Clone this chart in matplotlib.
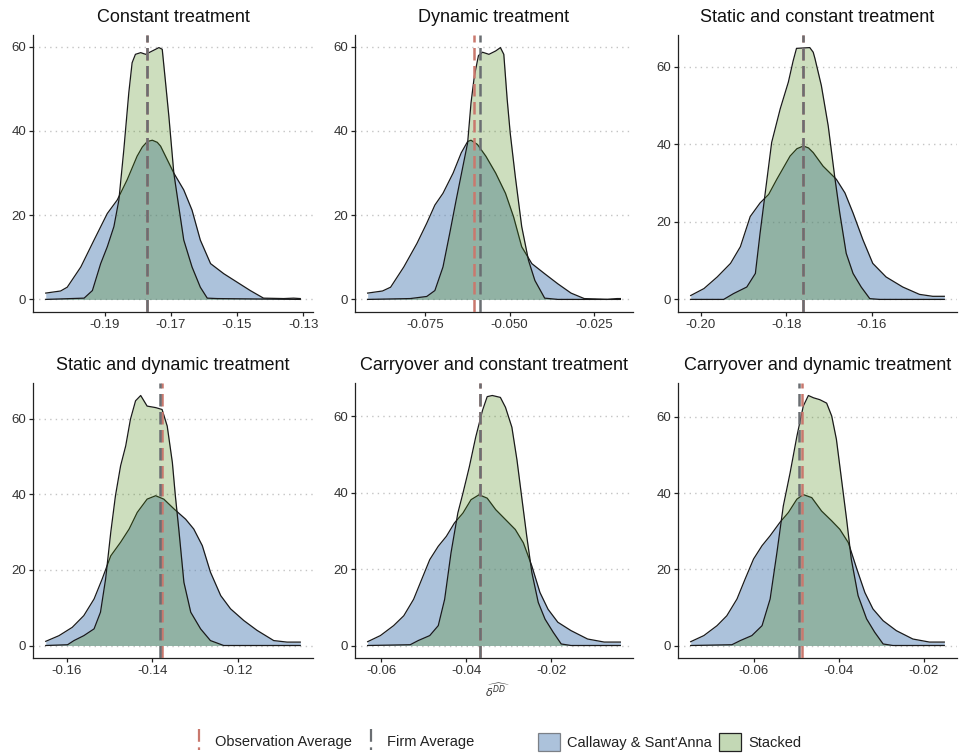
import numpy as np
import matplotlib.pyplot as plt
from matplotlib.lines import Line2D
from matplotlib.patches import Patch
from matplotlib.legend_handler import HandlerBase

plt.rcParams["font.family"] = ["Liberation Sans", "DejaVu Sans"]

titles = [
    "Constant treatment",
    "Dynamic treatment",
    "Static and constant treatment",
    "Static and dynamic treatment",
    "Carryover and constant treatment",
    "Carryover and dynamic treatment",
]

# Callaway & Sant'Anna (cs) and Stacked (st) density curves
const_cs_x = [-0.2078, -0.2033, -0.2013, -0.1972, -0.1932, -0.1892, -0.1862, -0.1832, -0.1802, -0.1786, -0.1771,
              -0.1756, -0.1741, -0.1731, -0.1691, -0.1661, -0.1636, -0.1611, -0.1580, -0.1540, -0.1500, -0.1460,
              -0.1420, -0.1359, -0.1329, -0.1309]
const_cs_y = [1.5, 2.0, 2.9, 7.7, 14.1, 20.4, 23.6, 28.4, 34.0, 36.2, 37.5,
              37.8, 37.3, 36.4, 30.0, 26.0, 21.2, 14.1, 8.5, 6.1, 4.1, 2.1,
              0.3, 0.2, 0.3, 0.2]
const_st_x = [-0.2078, -0.1962, -0.1937, -0.1912, -0.1892, -0.1872, -0.1857, -0.1842, -0.1827, -0.1817,
              -0.1807, -0.1791, -0.1776, -0.1756, -0.1736, -0.1726, -0.1716, -0.1706, -0.1691, -0.1676,
              -0.1661, -0.1636, -0.1611, -0.1590, -0.1560, -0.1309]
const_st_y = [0.0, 0.3, 2.1, 8.5, 12.5, 17.3, 23.6, 35.6, 49.1, 56.2,
              58.2, 58.6, 58.2, 59.0, 59.8, 59.4, 51.5, 43.5, 30.0, 22.0,
              14.1, 7.7, 2.9, 0.3, 0.2, 0.0]

dyn_cs_x = [-0.0920, -0.0876, -0.0852, -0.0813, -0.0774, -0.0745, -0.0721, -0.0697, -0.0667, -0.0643,
            -0.0624, -0.0614, -0.0595, -0.0570, -0.0541, -0.0512, -0.0488, -0.0464, -0.0434, -0.0396,
            -0.0357, -0.0318, -0.0279, -0.0211, -0.0182, -0.0172]
dyn_cs_y = [1.5, 2.0, 2.9, 7.7, 13.3, 18.1, 22.4, 25.2, 30.0, 34.8,
            37.5, 37.8, 36.8, 34.0, 30.0, 25.2, 19.6, 12.5, 8.5, 6.1,
            3.7, 1.5, 0.2, 0.0, 0.2, 0.2]
dyn_st_x = [-0.0920, -0.0794, -0.0745, -0.0721, -0.0697, -0.0677, -0.0658, -0.0638, -0.0624, -0.0614,
            -0.0604, -0.0592, -0.0580, -0.0561, -0.0541, -0.0527, -0.0517, -0.0507, -0.0498, -0.0483,
            -0.0464, -0.0444, -0.0425, -0.0396, -0.0357, -0.0172]
dyn_st_y = [0.0, 0.2, 0.7, 2.1, 7.7, 15.7, 23.6, 31.6, 37.2, 46.7,
            53.1, 57.9, 58.7, 58.2, 59.0, 59.8, 58.2, 47.5, 39.5, 29.2,
            17.3, 9.3, 4.5, 0.3, 0.0, 0.0]

sc_cs_x = [-0.2023, -0.1992, -0.1961, -0.1930, -0.1907, -0.1884, -0.1861, -0.1841, -0.1822, -0.1791,
           -0.1775, -0.1760, -0.1748, -0.1737, -0.1714, -0.1683, -0.1663, -0.1644, -0.1621, -0.1598,
           -0.1567, -0.1528, -0.1489, -0.1458, -0.1431]
sc_cs_y = [1.0, 2.8, 5.8, 9.3, 13.6, 21.4, 24.9, 27.1, 31.0, 37.0,
           38.9, 39.6, 39.1, 37.9, 34.4, 31.0, 27.5, 22.3, 15.4, 9.3,
           5.8, 3.2, 1.3, 0.8, 0.8]
sc_st_x = [-0.2023, -0.1946, -0.1923, -0.1892, -0.1872, -0.1861, -0.1849, -0.1834, -0.1814, -0.1795,
           -0.1784, -0.1776, -0.1745, -0.1737, -0.1733, -0.1718, -0.1702, -0.1687, -0.1675, -0.1660,
           -0.1644, -0.1625, -0.1605, -0.1582, -0.1431]
sc_st_y = [0.0, 0.0, 1.5, 3.2, 6.7, 17.1, 27.5, 40.5, 49.2, 56.1,
           61.5, 64.8, 65.0, 63.8, 62.2, 55.2, 44.8, 31.8, 22.3, 11.9,
           6.7, 3.2, 0.2, 0.0, 0.0]

sd_cs_x = [-0.1649, -0.1618, -0.1587, -0.1560, -0.1536, -0.1517, -0.1497, -0.1474, -0.1454, -0.1435,
           -0.1412, -0.1392, -0.1373, -0.1349, -0.1322, -0.1303, -0.1283, -0.1264, -0.1240, -0.1217,
           -0.1186, -0.1155, -0.1116, -0.1085, -0.1054]
sd_cs_y = [1.1, 2.6, 4.8, 7.9, 12.3, 17.6, 23.7, 27.3, 30.8, 35.2,
           38.7, 39.6, 38.7, 36.1, 33.4, 30.8, 26.4, 19.4, 13.2, 9.7,
           6.6, 4.0, 1.3, 0.9, 0.9]
sd_st_x = [-0.1649, -0.1598, -0.1583, -0.1560, -0.1536, -0.1521, -0.1509, -0.1497, -0.1486, -0.1474,
           -0.1462, -0.1451, -0.1439, -0.1427, -0.1412, -0.1392, -0.1377, -0.1365, -0.1353, -0.1346,
           -0.1338, -0.1326, -0.1310, -0.1287, -0.1264, -0.1233, -0.1054]
sd_st_y = [0.0, 0.2, 1.3, 2.6, 4.4, 8.8, 17.6, 29.9, 39.6, 47.5,
           52.8, 59.8, 64.7, 66.1, 63.3, 62.9, 62.4, 58.0, 48.4, 39.6,
           30.8, 16.7, 8.8, 4.4, 1.3, 0.0, 0.0]

cc_cs_x = [-0.0632, -0.0602, -0.0571, -0.0547, -0.0524, -0.0505, -0.0486, -0.0466, -0.0447, -0.0428,
           -0.0408, -0.0389, -0.0370, -0.0351, -0.0331, -0.0308, -0.0285, -0.0266, -0.0246, -0.0227,
           -0.0208, -0.0185, -0.0154, -0.0115, -0.0076, -0.0038]
cc_cs_y = [1.0, 2.6, 5.2, 7.8, 12.1, 17.3, 22.5, 26.0, 28.6, 32.1,
           34.7, 38.2, 39.5, 38.6, 35.6, 33.0, 30.4, 26.9, 20.8, 13.9,
           9.5, 6.1, 3.9, 1.7, 0.9, 0.9]
cc_st_x = [-0.0632, -0.0532, -0.0513, -0.0486, -0.0466, -0.0451, -0.0436, -0.0420, -0.0408, -0.0393,
           -0.0378, -0.0362, -0.0351, -0.0339, -0.0320, -0.0308, -0.0293, -0.0281, -0.0270, -0.0258,
           -0.0246, -0.0231, -0.0215, -0.0196, -0.0177, -0.0154, -0.0038]
cc_st_y = [0.0, 0.2, 1.3, 2.6, 5.2, 12.1, 24.3, 34.7, 39.9, 46.8,
           54.6, 61.6, 65.2, 65.5, 65.0, 62.4, 57.2, 48.6, 39.0, 28.6,
           19.1, 11.3, 6.9, 3.5, 0.4, 0.0, 0.0]

cd_cs_x = [-0.0748, -0.0717, -0.0686, -0.0663, -0.0639, -0.0620, -0.0600, -0.0580, -0.0561, -0.0538,
           -0.0518, -0.0498, -0.0483, -0.0463, -0.0440, -0.0416, -0.0397, -0.0377, -0.0357, -0.0338,
           -0.0319, -0.0295, -0.0264, -0.0225, -0.0186, -0.0151]
cd_cs_y = [1.0, 2.6, 5.2, 7.8, 12.2, 17.4, 22.7, 26.2, 28.8, 32.3,
           34.9, 38.4, 39.6, 38.8, 35.3, 32.7, 30.5, 27.0, 20.1, 13.9,
           9.6, 6.5, 3.9, 1.7, 0.9, 0.9]
cd_st_x = [-0.0748, -0.0651, -0.0631, -0.0604, -0.0580, -0.0561, -0.0545, -0.0530, -0.0514, -0.0498,
           -0.0483, -0.0471, -0.0459, -0.0444, -0.0428, -0.0416, -0.0405, -0.0393, -0.0381, -0.0370,
           -0.0354, -0.0334, -0.0315, -0.0295, -0.0272, -0.0151]
cd_st_y = [0.0, 0.2, 1.3, 2.6, 5.2, 12.2, 24.4, 36.6, 45.3, 54.9,
           62.8, 65.6, 65.0, 64.5, 63.6, 60.2, 54.1, 43.6, 33.1, 22.7,
           13.1, 7.0, 3.5, 0.4, 0.0, 0.0]

# vertical reference lines
obs_avg = [-0.1771, -0.0606, -0.1762, -0.1378, -0.0369, -0.0487]
firm_avg = [-0.1771, -0.0586, -0.1762, -0.1383, -0.0369, -0.0492]

xticks = [
    [-0.19, -0.17, -0.15, -0.13],
    [-0.075, -0.050, -0.025],
    [-0.20, -0.18, -0.16],
    [-0.16, -0.14, -0.12],
    [-0.06, -0.04, -0.02],
    [-0.06, -0.04, -0.02],
]
xticklabels = [
    ["-0.19", "-0.17", "-0.15", "-0.13"],
    ["-0.075", "-0.050", "-0.025"],
    ["-0.20", "-0.18", "-0.16"],
    ["-0.16", "-0.14", "-0.12"],
    ["-0.06", "-0.04", "-0.02"],
    ["-0.06", "-0.04", "-0.02"],
]
yticks = [0, 20, 40, 60]

cs_curves = [(const_cs_x, const_cs_y), (dyn_cs_x, dyn_cs_y), (sc_cs_x, sc_cs_y),
             (sd_cs_x, sd_cs_y), (cc_cs_x, cc_cs_y), (cd_cs_x, cd_cs_y)]
st_curves = [(const_st_x, const_st_y), (dyn_st_x, dyn_st_y), (sc_st_x, sc_st_y),
             (sd_st_x, sd_st_y), (cc_st_x, cc_st_y), (cd_st_x, cd_st_y)]

blueColor = "#5b86b8"
blueAlpha = 0.5
greenColor = "#4c8917"
greenAlpha = 0.28
obsColor = "#c9786d"
firmColor = "#6a6e72"
textColor = "#333333"

W, H = 962, 756
lefts = [33, 355, 678]
rights = [313, 633, 957]
rows = [(35, 312), (383, 658)]

fig = plt.figure(figsize=(W / 100, H / 100), dpi=100)

for i in range(6):
    r, c = divmod(i, 3)
    top, bot = rows[r]
    ax = fig.add_axes([lefts[c] / W, 1 - bot / H, (rights[c] - lefts[c]) / W, (bot - top) / H])

    cx, cy = cs_curves[i]
    sx, sy = st_curves[i]
    ax.fill_between(cx, cy, 0, color=blueColor, alpha=blueAlpha, lw=0, zorder=2)
    ax.plot(cx, cy, color="#1a1a1a", lw=0.9, zorder=3, solid_joinstyle="round")
    ax.fill_between(sx, sy, 0, color=greenColor, alpha=greenAlpha, lw=0, zorder=4)
    ax.plot(sx, sy, color="#1a1a1a", lw=0.9, zorder=5, solid_joinstyle="round")

    ax.axvline(obs_avg[i], color=obsColor, lw=1.8, dashes=(5, 2.2), zorder=6)
    ax.axvline(firm_avg[i], color=firmColor, lw=1.8, dashes=(5, 2.2), zorder=7)

    xmin = min(cx[0], sx[0])
    xmax = max(cx[-1], sx[-1])
    xr = xmax - xmin
    ymax = max(max(cy), max(sy))
    ax.set_xlim(xmin - 0.05 * xr, xmax + 0.05 * xr)
    ax.set_ylim(-0.05 * ymax, 1.05 * ymax)

    ax.set_xticks(xticks[i])
    ax.set_xticklabels(xticklabels[i])
    ax.set_yticks(yticks)
    for y in yticks:
        ax.axhline(y, color="#c4c4c4", lw=1.0, dashes=(1, 3), zorder=1)

    for s in ["top", "right"]:
        ax.spines[s].set_visible(False)
    for s in ["left", "bottom"]:
        ax.spines[s].set_color("#222222")
        ax.spines[s].set_linewidth(0.9)
    ax.tick_params(axis="both", length=3, width=0.9, color="#222222",
                   labelsize=9.5, labelcolor=textColor, pad=2)
    ax.set_title(titles[i], fontsize=13, pad=9, color="#111111")

fig.text(497 / W, 1 - 690 / H, r"$\widehat{\delta^{DD}}$", ha="center", va="center",
         fontsize=8, color=textColor)


class VDashHandler(HandlerBase):
    def create_artists(self, legend, orig_handle, xdescent, ydescent, width, height, fontsize, trans):
        x = width / 2 - xdescent
        line = Line2D([x, x], [-ydescent - 3, height - ydescent + 5],
                      color=orig_handle.get_color(), lw=1.6, dashes=(1.2, 2.5, 6, 2.5), transform=trans)
        return [line]


lineHandles = [Line2D([], [], color=obsColor), Line2D([], [], color=firmColor)]
leg1 = fig.legend(lineHandles, ["Observation Average", "Firm Average"], loc="center",
                  bbox_to_anchor=(333 / W, 1 - 742 / H), ncol=2, frameon=False, fontsize=10.5,
                  handler_map={Line2D: VDashHandler()}, handlelength=1.0, handletextpad=0.6,
                  columnspacing=0.8)
for t in leg1.get_texts():
    t.set_color("#222222")

fillHandles = [Patch(facecolor=blueColor, alpha=blueAlpha, edgecolor="#222222", lw=0.9),
               Patch(facecolor="#c3d8b5", edgecolor="#222222", lw=0.9)]
leg2 = fig.legend(fillHandles, ["Callaway & Sant'Anna", "Stacked"], loc="center",
                  bbox_to_anchor=(670 / W, 1 - 742 / H), ncol=2, frameon=False, fontsize=10.5,
                  handlelength=1.5, handleheight=1.5, handletextpad=0.5, columnspacing=0.5)
for t in leg2.get_texts():
    t.set_color("#222222")

plt.savefig("out.png", dpi=100)
